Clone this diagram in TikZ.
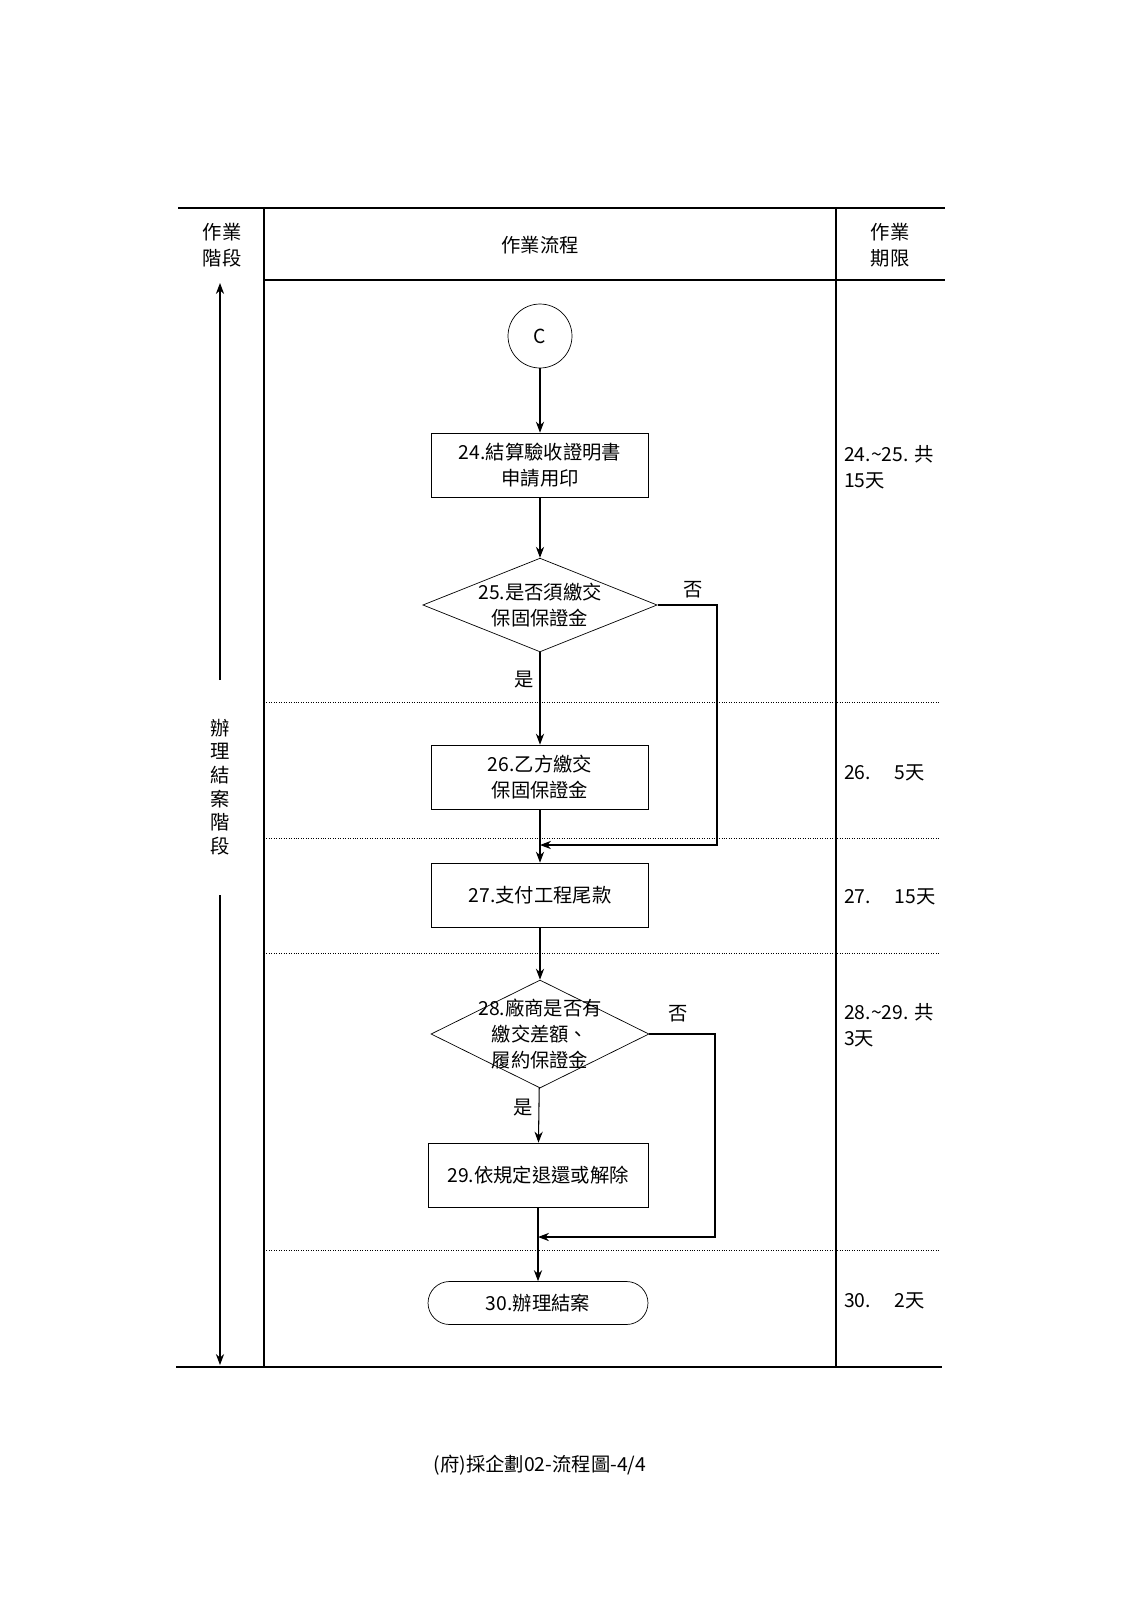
\documentclass[tikz,border=0pt]{standalone}
\usepackage{fontspec}
\setmainfont{Liberation Serif}
\newfontfamily\cjk{Noto Sans CJK TC}
\usetikzlibrary{shapes.geometric,arrows.meta}
\tikzset{
  box/.style={draw,minimum width=4.34cm,minimum height=1.28cm,align=center},
  decide/.style={draw,diamond,aspect=2.5,inner sep=0pt,minimum width=4.32cm,minimum height=1.72cm,align=center},
  term/.style={draw,rounded corners=0.43cm,minimum width=4.4cm,minimum height=0.86cm},
  flow/.style={-{Stealth[length=2.2mm]},semithick},
  grid/.style={semithick},
  sep/.style={densely dotted},
  lbl/.style={font=\cjk\fontsize{11}{15}\selectfont}
}
\begin{document}
\begin{tikzpicture}[x=0.02cm,y=-0.02cm,every node/.style={lbl}]
% table frame
\draw[grid] (178,208) -- (945,208);
\draw[grid] (264,280) -- (945,280);
\draw[grid] (176,1367) -- (942,1367);
\draw[grid] (264,208) -- (264,1367);
\draw[grid] (836,208) -- (836,1367);
\foreach \y in {702,838,953,1250}
  \draw[sep] (264,\y) -- (940,\y);
\node[align=center] (hstage) at (222,245) {作業\\階段};
\node (hflow) at (540,245) {作業流程};
\node[align=center] (hterm) at (890,245) {作業\\期限};
% phase arrow
\node[align=center,font=\cjk\fontsize{11}{13.5}\selectfont] (phase) at (220,787) {辦\\理\\結\\案\\階\\段};
\coordinate (ptop) at (220,283);
\coordinate (pbot) at (220,1365);
\draw[flow] (220,680) -- (ptop);
\draw[flow] (220,895) -- (pbot);
% flow
\node[draw,circle,minimum size=1.28cm] (c) at (540,336) {C};
\node[box] (s24) at (540,465) {24.結算驗收證明書\\申請用印};
\node[decide] (s25) at (540,605) {25.是否須繳交\\保固保證金};
\node[box] (s26) at (540,777) {26.乙方繳交\\保固保證金};
\node[box] (s27) at (540,895) {27.支付工程尾款};
\node[decide,aspect=2,inner sep=-12pt,minimum height=2.16cm,minimum width=4.36cm] (s28) at (540,1034) {28.廠商是否有\\繳交差額、\\履約保證金};
\node[box,minimum width=4.4cm] (s29) at (538,1175) {29.依規定退還或解除};
\node[term] (s30) at (538,1303) {30.辦理結案};
\draw[flow] (c) -- (s24);
\draw[flow] (s24) -- (s25);
\draw[flow] (s25) -- node[left,pos=0.3] {是} (s26);
\draw[flow] (s26) -- (s27);
\draw[flow] (s27) -- (s28);
\draw[flow] (s28) -- node[left,pos=0.35] {是} (s29);
\draw[flow] (s29) -- (s30);
\coordinate (m27) at (540,845);
\coordinate (m30) at (538,1237);
\draw[flow] (s25.east) -- (717,605) -- (717,845) -- (m27);
\draw[flow] (s28.east) -- (715,1034) -- (715,1237) -- (m30);
\node (no25) at (693,590) {否};
\node (no28) at (678,1014) {否};
% terms
\node[anchor=west,align=left] (t24) at (838,467) {24.\textasciitilde25. 共\\15天};
\node[anchor=west] (t26) at (838,773) {26.\quad\ 5天};
\node[anchor=west] (t27) at (838,897) {27.\quad\ 15天};
\node[anchor=west,align=left] (t28) at (838,1025) {28.\textasciitilde29. 共\\3天};
\node[anchor=west] (t30) at (838,1301) {30.\quad\ 2天};
\node (foot) at (540,1465) {(府)採企劃02-流程圖-4/4};
\pgfresetboundingbox
\useasboundingbox (0,0) rectangle (1128,1600);
\end{tikzpicture}
\end{document}
